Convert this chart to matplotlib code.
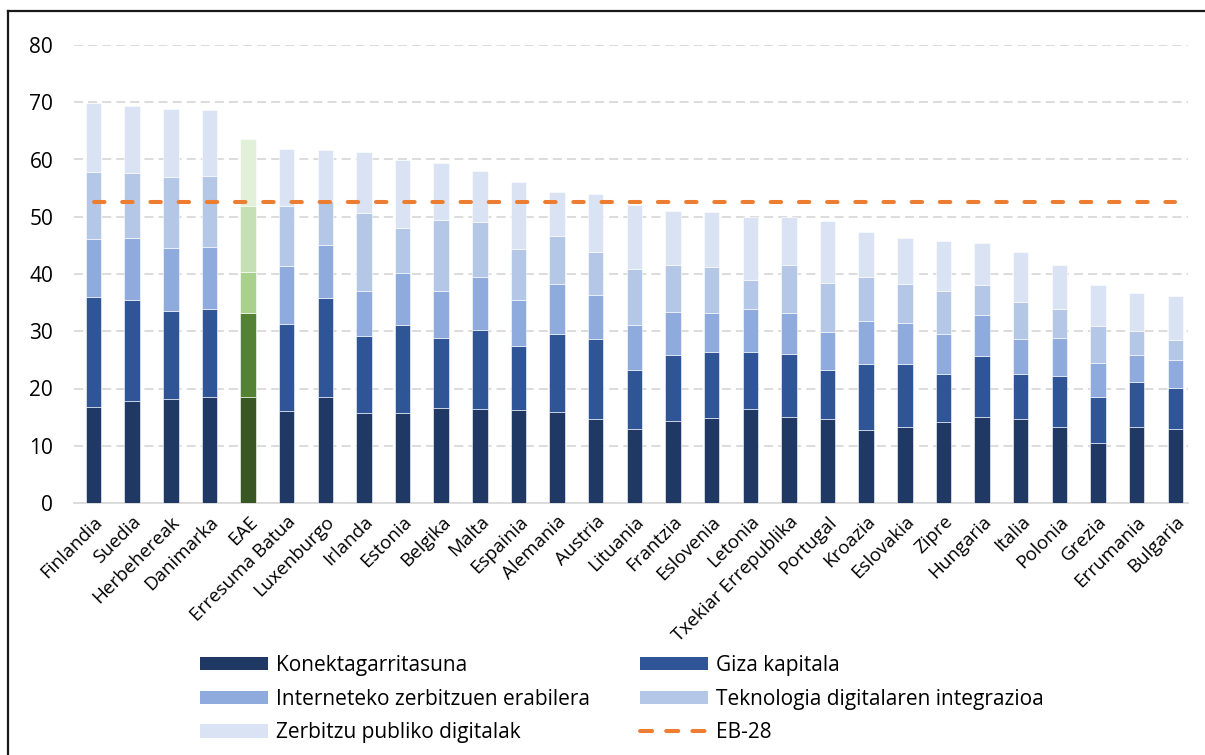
import numpy as np
import matplotlib
matplotlib.use('Agg')
import matplotlib.pyplot as plt
from matplotlib.patches import Patch
from matplotlib.lines import Line2D

plt.rcParams['font.family'] = ['Open Sans', 'DejaVu Sans']

countries = ['Finlandia', 'Suedia', 'Herbehereak', 'Danimarka', 'EAE', 'Erresuma Batua',
             'Luxenburgo', 'Irlanda', 'Estonia', 'Belgika', 'Malta', 'Espainia', 'Alemania',
             'Austria', 'Lituania', 'Frantzia', 'Eslovenia', 'Letonia', 'Txekiar Errepublika',
             'Portugal', 'Kroazia', 'Eslovakia', 'Zipre', 'Hungaria', 'Italia', 'Polonia',
             'Grezia', 'Errumania', 'Bulgaria']

# cumulative tops
top_konek = [16.7, 17.8, 18.2, 18.5, 18.6, 16.0, 18.5, 15.8, 15.7, 16.6, 16.5, 16.3, 15.9,
             14.7, 12.9, 14.3, 14.8, 16.4, 15.0, 14.6, 12.7, 13.2, 14.1, 15.1, 14.6, 13.2,
             10.4, 13.3, 13.0]
top_giza = [35.9, 35.5, 33.6, 33.8, 33.2, 31.3, 35.8, 29.1, 31.1, 28.9, 30.3, 27.5, 29.5,
            28.6, 23.3, 25.9, 26.3, 26.4, 26.1, 23.3, 24.3, 24.3, 22.6, 25.7, 22.6, 22.2,
            18.6, 21.2, 20.1]
top_internet = [46.2, 46.3, 44.5, 44.8, 40.3, 41.4, 45.1, 37.1, 40.2, 37.1, 39.4, 35.5, 38.3,
                36.3, 31.1, 33.4, 33.2, 33.8, 33.2, 29.9, 31.8, 31.5, 29.6, 32.9, 28.7, 28.9,
                24.5, 25.9, 24.9]
top_tekno = [57.8, 57.7, 57.0, 57.1, 51.9, 51.8, 52.7, 50.7, 48.1, 49.4, 49.0, 44.4, 46.7,
             43.8, 40.9, 41.5, 41.3, 39.0, 41.6, 38.5, 39.5, 38.3, 37.1, 38.0, 35.1, 33.8,
             31.0, 30.1, 28.5]
top_publiko = [69.9, 69.4, 68.8, 68.7, 63.6, 61.8, 61.7, 61.3, 59.9, 59.4, 58.0, 56.1, 54.4,
               53.9, 52.0, 51.0, 50.9, 50.0, 50.0, 49.3, 47.4, 46.3, 45.8, 45.4, 43.8, 41.6,
               38.0, 36.6, 36.2]
eb28 = 52.5

series = ['Konektagarritasuna', 'Giza kapitala', 'Interneteko zerbitzuen erabilera',
          'Teknologia digitalaren integrazioa', 'Zerbitzu publiko digitalak']
blues = ['#203864', '#2F5597', '#8FAADC', '#B4C7E7', '#DAE3F3']
greens = ['#385723', '#548235', '#A9D18E', '#C5E0B4', '#E2F0D9']
orange = '#ED7D31'

tops = np.array([top_konek, top_giza, top_internet, top_tekno, top_publiko])
bottoms = np.vstack([np.zeros(len(countries)), tops[:-1]])
heights = tops - bottoms

W, H = 1205, 755
fig = plt.figure(figsize=(W / 100, H / 100), dpi=100)
ax = fig.add_axes([74 / W, 1 - 503 / H, (1188 - 74) / W, (503 - 45) / H])

x = np.arange(len(countries))
for i in range(5):
    cols = [greens[i] if c == 'EAE' else blues[i] for c in countries]
    ax.bar(x, heights[i], bottom=bottoms[i], width=0.4, color=cols,
           edgecolor='white', linewidth=0.4, zorder=3)

ax.plot(x, [eb28] * len(x), color=orange, lw=2.9, dashes=(2.6, 4.4),
        dash_capstyle='round', zorder=4)

ax.set_xlim(-0.505, 28.33)
ax.set_ylim(0, 80)
ax.set_yticks(np.arange(0, 81, 10))
ax.yaxis.grid(True, color='#D9D9D9', linestyle=(0, (5, 2.8)), lw=1.3, zorder=0)
ax.set_xticks(x)
ax.set_xticklabels(countries, rotation=45, ha='right', rotation_mode='anchor')
ax.tick_params(axis='both', length=0, colors='black')
ax.tick_params(axis='y', pad=15, labelsize=15)
ax.tick_params(axis='x', pad=7, labelsize=13.5)
for s in ['left', 'right', 'top']:
    ax.spines[s].set_visible(False)
ax.spines['bottom'].set_color('#D9D9D9')
ax.spines['bottom'].set_linewidth(1.3)

leg_kw = dict(loc='upper left', frameon=False, fontsize=15, handlelength=3.27,
              handleheight=0.63, handletextpad=0.38, labelspacing=0.61,
              borderpad=0, borderaxespad=0)
h1 = [Patch(facecolor=blues[0]), Patch(facecolor=blues[2]), Patch(facecolor=blues[4])]
l1 = [series[0], series[2], series[4]]
h2 = [Patch(facecolor=blues[1]), Patch(facecolor=blues[3]),
      Line2D([0], [0], color=orange, lw=2.9, dashes=(3, 3.5), dash_capstyle='round')]
l2 = [series[1], series[3], 'EB-28']
fig.legend(h1, l1, bbox_to_anchor=(200 / W, 1 - 655 / H), **leg_kw)
fig.legend(h2, l2, bbox_to_anchor=(640 / W, 1 - 655 / H), **leg_kw)

# frame around the chart (left and top edges visible)
fig.add_artist(Line2D([8 / W, 8 / W], [0, 1 - 11 / H], color='#1a1a1a', lw=1.6,
                      transform=fig.transFigure))
fig.add_artist(Line2D([8 / W, 1], [1 - 11 / H, 1 - 11 / H], color='#1a1a1a', lw=1.6,
                      transform=fig.transFigure))

fig.savefig('out.png', dpi=100)
